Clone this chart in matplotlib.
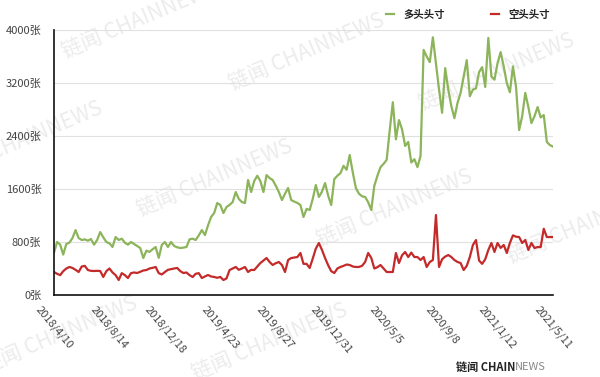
import matplotlib
matplotlib.use('Agg')
import matplotlib.pyplot as plt
import numpy as np

plt.rcParams['font.family'] = ['Noto Sans CJK SC', 'DejaVu Sans']

# ---- data ----
series_names = ['多头头寸', '空头头寸']
long_pos = [
    640, 800, 760, 610, 770, 790, 860, 980, 860, 830,
    840, 820, 845, 760, 830, 950, 870, 800, 780, 725,
    875, 830, 850, 790, 760, 800, 770, 740, 709, 558,
    670, 650, 690, 724, 560, 755, 800, 724, 800, 740,
    720, 709, 715, 724, 840, 850, 830, 900, 980, 905,
    1050, 1177, 1237, 1388, 1358, 1237, 1328, 1360, 1403, 1554,
    1450, 1403, 1388, 1735, 1554, 1720, 1800, 1720, 1554, 1810,
    1765, 1735, 1650, 1554, 1433, 1530, 1615, 1433, 1410, 1390,
    1358, 1177, 1300, 1283, 1450, 1660, 1480, 1560, 1690, 1500,
    1358, 1750, 1800, 1840, 1950, 1890, 2113, 1850, 1615, 1530,
    1490, 1480, 1400, 1283, 1650, 1800, 1930, 1980, 2040, 2490,
    2910, 2350, 2640, 2500, 2250, 2310, 2000, 2050, 1930, 2100,
    3700, 3600, 3515, 3890, 3500, 3100, 2750, 3425, 3100, 2850,
    2670, 2900, 3050, 3300, 3545, 3000, 3100, 3120, 3365, 3440,
    3140, 3880, 3300, 3250, 3500, 3667, 3450, 3200, 3060, 3450,
    3140, 2490, 2700, 3050, 2837, 2595, 2700, 2837, 2680, 2716,
    2310, 2263, 2240,
]
short_pos = [
    347, 320, 300, 360, 400, 423, 408, 380, 347, 430,
    440, 377, 365, 362, 365, 362, 272, 360, 400, 340,
    300, 226, 330, 300, 256, 330, 340, 332, 350, 370,
    377, 400, 410, 423, 330, 310, 347, 380, 390, 400,
    408, 360, 332, 340, 300, 272, 320, 330, 256, 280,
    302, 280, 272, 260, 272, 226, 250, 377, 400, 423,
    380, 400, 423, 347, 380, 377, 430, 483, 520, 558,
    498, 453, 480, 498, 453, 347, 528, 558, 565, 573,
    634, 470, 470, 408, 550, 700, 785, 680, 558, 450,
    360, 332, 400, 423, 440, 460, 453, 430, 423, 423,
    440, 498, 634, 560, 400, 420, 453, 400, 347, 347,
    347, 634, 483, 600, 649, 573, 640, 573, 573, 528,
    573, 423, 498, 528, 1207, 423, 540, 580, 603, 573,
    528, 498, 483, 377, 440, 573, 755, 830, 520, 470,
    540, 679, 785, 650, 785, 710, 755, 634, 785, 900,
    880, 875, 785, 830, 679, 785, 709, 724, 724, 1000,
    875, 875, 875,
]
tick_labels = ['2018/4/10', '2018/8/14', '2018/12/18', '2019/4/23', '2019/8/27',
               '2019/12/31', '2020/5/5', '2020/9/8', '2021/1/12', '2021/5/11']
tick_step = 18
y_ticks = [0, 800, 1600, 2400, 3200, 4000]

GREEN = '#8cb45a'
RED = '#c42a2a'
W, H = 600, 377

fig = plt.figure(figsize=(W / 100, H / 100), dpi=100)
fig.patch.set_facecolor('white')

# watermarks (behind everything)
wm_centers = [(140, 20), (307, 52), (497, 72), (25, 140), (215, 178),
              (395, 208), (585, 225), (60, 335), (270, 342)]
for cx, cy in wm_centers:
    fig.text(cx / W, 1 - cy / H, '链闻 CHAINNEWS', fontsize=15, rotation=23,
             color='#ececec', ha='center', va='center', zorder=-5,
             rotation_mode='anchor')

ax = fig.add_axes([54 / W, 82 / H, 499 / W, 265 / H])
ax.set_facecolor('none')
x = np.arange(len(long_pos))
ax.plot(x, long_pos, color=GREEN, lw=1.6, label=series_names[0], solid_joinstyle='round')
ax.plot(x, short_pos, color=RED, lw=1.6, label=series_names[1], solid_joinstyle='round')

ax.set_xlim(0, len(long_pos) - 1)
ax.set_ylim(0, 4000)
ax.set_yticks(y_ticks)
ax.set_yticklabels([f'{v}张' for v in y_ticks], fontsize=8, color='#444')
tick_idx = [i * tick_step for i in range(len(tick_labels))]
ax.set_xticks(tick_idx)
ax.set_xticklabels(tick_labels, rotation=-50, ha='center', va='top',
                   fontsize=8, color='#444')
ax.tick_params(axis='x', length=0, pad=7)
ax.tick_params(axis='y', length=0, pad=9)

ax.yaxis.grid(True, color='#e0e0e0', lw=0.8)
ax.set_axisbelow(True)
for s in ['top', 'right']:
    ax.spines[s].set_visible(False)
for s in ['left', 'bottom']:
    ax.spines[s].set_color('#111')
    ax.spines[s].set_linewidth(1.2)

leg = ax.legend(loc='center right', bbox_to_anchor=(550 / W, 1 - 15 / H),
                bbox_transform=fig.transFigure, ncol=2, frameon=False,
                handlelength=0.8, handletextpad=0.9, columnspacing=4.4,
                borderpad=0, borderaxespad=0,
                prop={'size': 7.5, 'weight': 'bold'})
for t in leg.get_texts():
    t.set_color('#222')

# logo
t1 = fig.text(456 / W, 1 - 367 / H, '链闻 CHAIN', fontsize=8, fontweight='bold',
              color='#222', ha='left', va='center')
fig.canvas.draw()
bb = t1.get_window_extent()
fig.text(bb.x1 / W, 1 - 367 / H, 'NEWS', fontsize=8, color='#888',
         ha='left', va='center')

fig.savefig('out.png', dpi=100)
